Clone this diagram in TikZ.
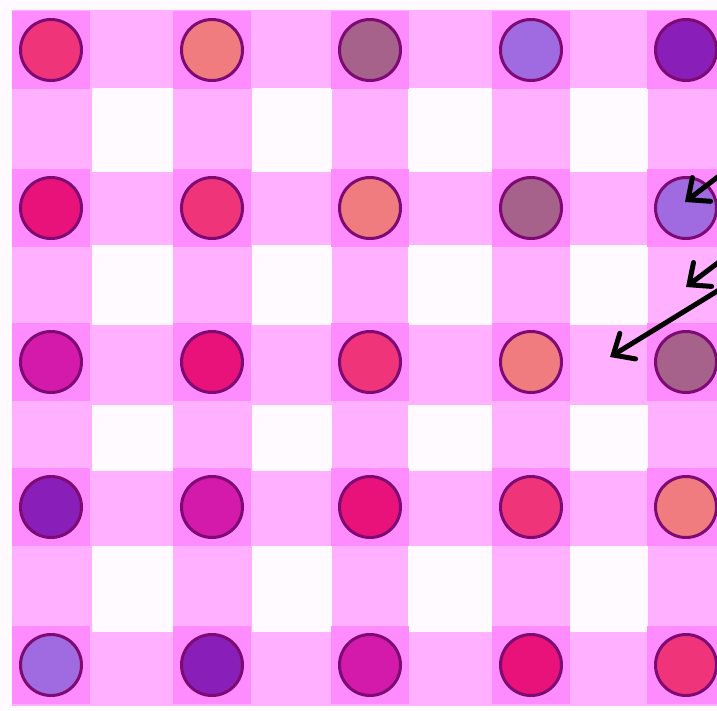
\documentclass[tikz,border=0pt]{standalone}
\usepackage{tikz}
\usetikzlibrary{arrows.meta}

\definecolor{paper}{HTML}{FFFAFF}
\definecolor{stripe}{HTML}{FFB0FF}
\definecolor{patch}{HTML}{FF8CFF}
\definecolor{rim}{HTML}{7E0A74}
% dot colours, one per diagonal
\definecolor{dot0}{HTML}{F0347A}
\definecolor{dot1}{HTML}{F07C80}
\definecolor{dot2}{HTML}{A6628A}
\definecolor{dot3}{HTML}{A06AE0}
\definecolor{dot4}{HTML}{8A1EB8}
\definecolor{dot5}{HTML}{D41AAA}
\definecolor{dot6}{HTML}{E8127A}

\tikzset{
  dot/.style={circle,draw=rim,line width=3pt,minimum size=61pt,inner sep=0pt},
  pointer/.style={line width=5pt,line cap=round,-{Straight Barb[length=17pt,width=30pt,line cap=round]}}
}

\begin{document}
\begin{tikzpicture}[x=1pt,y=-1pt]
\useasboundingbox (0,0) rectangle (717,710);
\clip (0,0) rectangle (717,710);
\fill[paper] (0,0) rectangle (717,710);
\fill[stripe] (12,10) rectangle (717,706);
% white squares between the stripes
\foreach \xa/\xb in {92/173,252/332,408/492,570/648}{
  \foreach \ya/\yb in {88/172,245/325,405/471,546/632}{
    \fill[paper] (\xa,\ya) rectangle (\xb,\yb);}}
% darker patches and the dots on them
\foreach \cx [count=\i] in {51,212,370,531,686}{
  \foreach \cy [count=\j] in {50,208,362,507,665}{
    \pgfmathtruncatemacro\k{mod(\i-\j+7,7)}
    \fill[patch] (\cx-39,\cy-39) rectangle (\cx+39,\cy+39);
    \node[dot,fill=dot\k] (d-\i-\j) at (\cx,\cy) {};
  }}
% arrows coming in from the right
\coordinate (s1) at (719,176);
\coordinate (t1) at (685,202);
\coordinate (s2) at (719,262);
\coordinate (t2) at (686,287);
\coordinate (s3) at (719,290);
\coordinate (t3) at (610,357);
\draw[pointer] (s1) -- (t1);
\draw[pointer] (s2) -- (t2);
\draw[pointer] (s3) -- (t3);
\end{tikzpicture}
\end{document}
